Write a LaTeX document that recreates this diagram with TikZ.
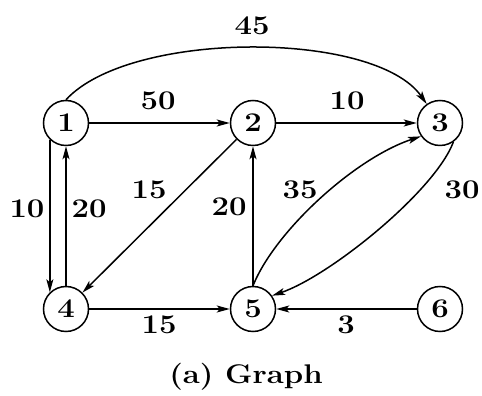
\documentclass[tikz,border=0pt]{standalone}
\usetikzlibrary{arrows.meta}
\newcommand\sxw[1]{\scalebox{1.15}[1]{#1}}
\begin{document}
\begin{tikzpicture}[x=1pt,y=1pt,
  vtx/.style={circle,draw,line width=1.5pt,minimum size=45pt,inner sep=0pt,font=\fontsize{27}{27}\selectfont\bfseries},
  lbl/.style={font=\fontsize{27}{27}\selectfont\bfseries,inner sep=0pt},
  edge/.style={line width=1.5pt,-{Stealth[length=13pt,width=7pt,inset=3pt]}}]
\useasboundingbox (0,0) rectangle (482,396);
\node[vtx] (n1) at (66,273) {\sxw{1}};
\node[vtx] (n2) at (253,273) {\sxw{2}};
\node[vtx] (n3) at (440,273) {\sxw{3}};
\node[vtx] (n4) at (66,87) {\sxw{4}};
\node[vtx] (n5) at (253,87) {\sxw{5}};
\node[vtx] (n6) at (440,87) {\sxw{6}};
\draw[edge] (n1.north) .. controls (130,366) and (375,366) .. (n3.125);
\draw[edge] (n1) -- (n2);
\draw[edge] (n2) -- (n3);
\draw[edge] (n1.226) -- (n4.134);
\draw[edge] (n4.north) -- (n1.south);
\draw[edge] (n2) -- (n4);
\draw[edge] (n5) -- (n2);
\draw[edge] (n5.north) .. controls (275,165) and (355,238) .. (n3.215);
\draw[edge] (n3.-55) .. controls (435,205) and (330,120) .. (n5.35);
\draw[edge] (n4) -- (n5);
\draw[edge] (n6) -- (n5);
\node[lbl] (l45) at (252,370) {\sxw{45}};
\node[lbl] (l50) at (158,295) {\sxw{50}};
\node[lbl] (l10a) at (347,295) {\sxw{10}};
\node[lbl] (l15a) at (149,206) {\sxw{15}};
\node[lbl] (l35) at (300,206) {\sxw{35}};
\node[lbl] (l30) at (462,206) {\sxw{30}};
\node[lbl] (l10b) at (27,187) {\sxw{10}};
\node[lbl] (l20a) at (89,187) {\sxw{20}};
\node[lbl] (l20b) at (229,189) {\sxw{20}};
\node[lbl] (l15b) at (159,71) {\sxw{15}};
\node[lbl] (l3) at (346,71) {\sxw{3}};
\node[lbl] (cap) at (246,19) {\sxw{(a) Graph}};
\end{tikzpicture}
\end{document}
